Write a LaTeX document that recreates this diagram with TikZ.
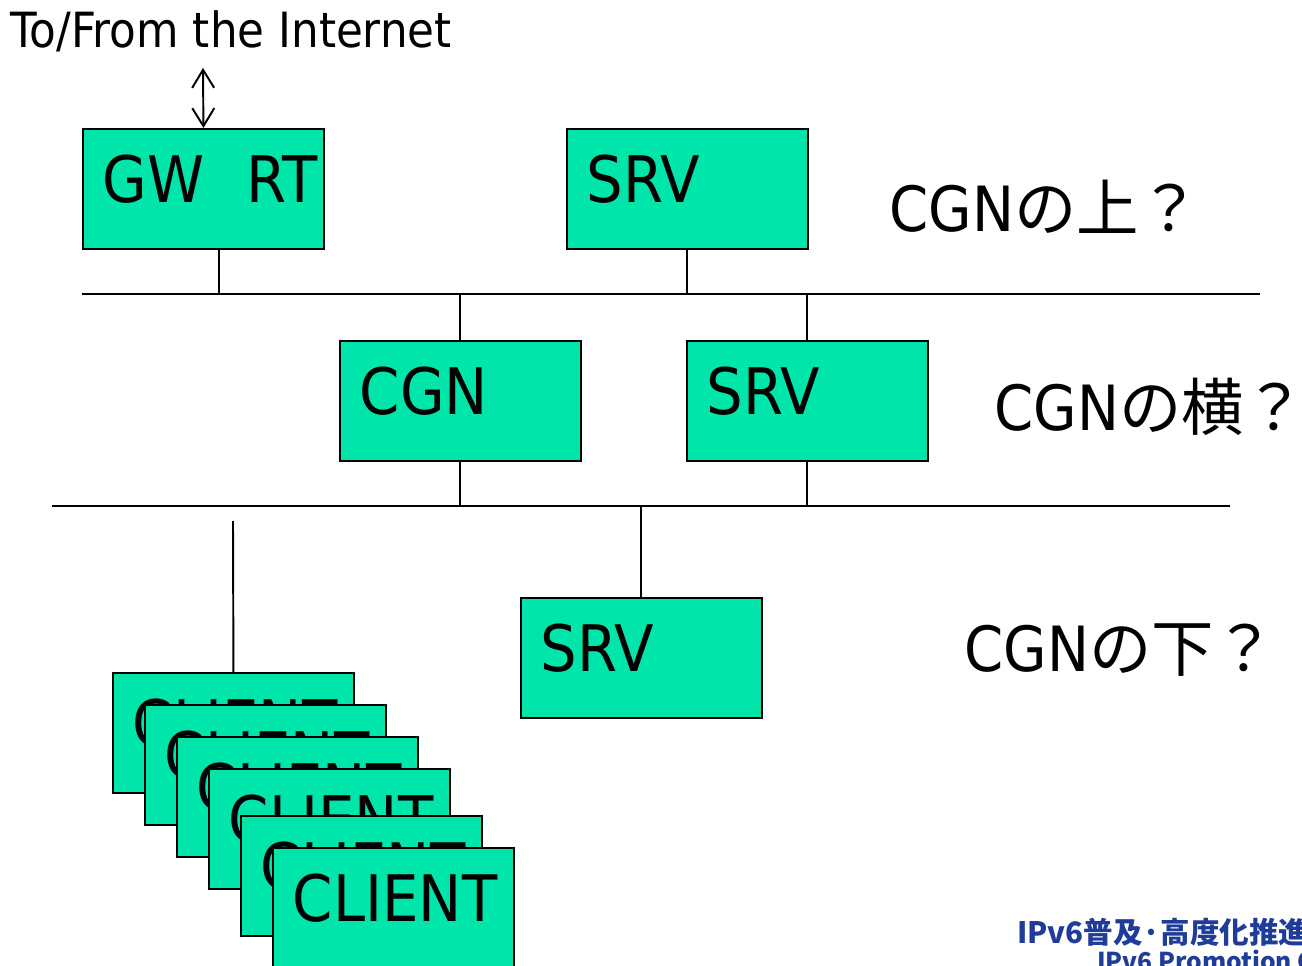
\documentclass[tikz,border=0pt]{standalone}
\usepackage{fontspec}
\newfontfamily\boxfont[FakeStretch=0.9]{DejaVu Sans}
\newfontfamily\jpfont{Noto Sans CJK JP}
\usepackage{xcolor}
\definecolor{NetGreen}{HTML}{00E5AA}
\definecolor{NetBlue}{HTML}{1F3C99}
\usetikzlibrary{positioning,arrows.meta}
\tikzset{
  nbox/.style={draw=black,fill=NetGreen,line width=1.1pt,anchor=north west,minimum width=4.82cm,minimum height=2.4cm,inner xsep=0.4cm,text width=4.02cm,align=left,text height=0.94cm,text depth=0.38cm,font=\boxfont\fontsize{36.5}{40}\selectfont},
  nbus/.style={draw=black,line width=1.1pt},
  nlabel/.style={anchor=base west,inner sep=0pt,font=\boxfont\fontsize{35.5}{40}\selectfont},
  nflow/.style={{Straight Barb[length=3.6mm,width=4.4mm]}-{Straight Barb[length=3.6mm,width=4.4mm]},draw=black,line width=1.1pt}
}

\begin{document}
\begin{tikzpicture}[x=0.02cm,y=-0.02cm]
  \useasboundingbox (0,0) rectangle (1302,966);
  \node[anchor=base west,inner sep=0pt,font=\boxfont\fontsize{27.6}{31}\selectfont] (inet) at (10,48) {To/From the Internet};
  % upper segment
  \node[nbox] (gw) at (82,128) {\mbox{GW\hspace{0.84cm}RT}};
  \node[nbox] (srvtop) at (566,128) {SRV};
  \node[nlabel] (above) at (889,232) {CGN{\jpfont の上？}};
  % middle segment
  \node[nbox] (cgn) at (339,340) {CGN};
  \node[nbox] (srvmid) at (686,340) {SRV};
  \node[nlabel] (beside) at (994,430) {CGN{\jpfont の横？}};
  % lower segment
  \node[nbox] (srvlow) at (520,597) {SRV};
  \node[nlabel] (below) at (964,671) {CGN{\jpfont の下？}};
  \node[nbox] (client1) at (112,672) {CLIENT};
  \node[nbox] (client2) at (144,704) {CLIENT};
  \node[nbox] (client3) at (176,736) {CLIENT};
  \node[nbox] (client4) at (208,768) {CLIENT};
  \node[nbox] (client5) at (240,815) {CLIENT};
  \node[nbox] (client6) at (272,847) {CLIENT};
  \node[anchor=base west,inner sep=0pt,text=NetBlue,font=\jpfont\bfseries\fontsize{16.8}{20}\selectfont] (logo) at (1017,943) {IPv6普及·高度化推進協議会};
  \node[anchor=base west,inner sep=0pt,text=NetBlue,font=\jpfont\bfseries\fontsize{14}{17}\selectfont] (logoen) at (1097,970) {IPv6 Promotion Council};
  % buses and links
  \coordinate (inettip) at (203,68);
  \coordinate (bus1w) at (82,294);
  \coordinate (bus1e) at (1260,294);
  \coordinate (bus2w) at (52,506);
  \coordinate (bus2e) at (1230,506);
  \coordinate (clienttop) at (233,521);
  \draw[nflow] (inettip) -- (gw.north);
  \draw[nbus] (bus1w) -- (bus1e);
  \draw[nbus] (bus2w) -- (bus2e);
  \draw[nbus] ([xshift=0.31cm]gw.south) -- ([xshift=0.31cm]gw.south |- bus1w);
  \draw[nbus] (srvtop.south) -- (srvtop.south |- bus1w);
  \draw[nbus] (cgn.north) -- (cgn.north |- bus1w);
  \draw[nbus] (srvmid.north) -- (srvmid.north |- bus1w);
  \draw[nbus] (cgn.south) -- (cgn.south |- bus2w);
  \draw[nbus] (srvmid.south) -- (srvmid.south |- bus2w);
  \draw[nbus] (srvlow.north) -- (srvlow.north |- bus2w);
  \draw[nbus] (client1.north) -- (clienttop);
\end{tikzpicture}
\end{document}
